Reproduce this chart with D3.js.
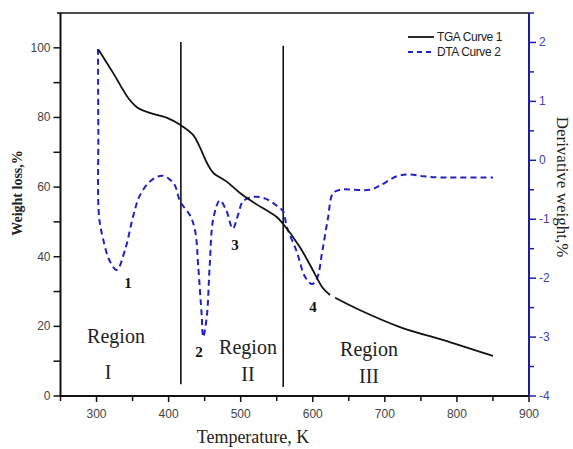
<!DOCTYPE html>
<html>
<head>
    <meta charset="utf-8">
    <script src="https://d3js.org/d3.v7.min.js"></script>
    <style>
        body { margin: 0; background: #fff; }
        .tick-label { font-family: "Liberation Sans", Arial, sans-serif; font-size: 12px; }
        .serif { font-family: "Liberation Serif", "Times New Roman", serif; }
    </style>
</head>
<body>
<script type="text/javascript">

    // TGA curve 1 (temperature K, weight %)
    var tgaTemp   = [303, 323, 344, 357, 374, 398, 416, 434, 443, 453, 462, 481, 499, 517, 550, 559, 582, 600, 614, 624, 631, 665, 721, 790, 850];
    var tgaWeight = [99.4, 92.8, 85.6, 82.8, 81.3, 79.9, 77.9, 75.0, 71.6, 67.0, 64.1, 61.5, 58.3, 55.7, 51.4, 49.4, 42.8, 36.2, 31.0, 29.0, 28.2, 24.7, 19.8, 15.5, 11.5];
    var tgaBreak  = 627;   // small gap in the plotted TGA trace

    // DTA curve 2 (temperature K, derivative weight %)
    var dtaTemp  = [302, 302.5, 303.4, 309, 318, 328, 340, 351, 360, 375, 391, 402, 409, 416, 430, 437, 441, 446, 448, 453, 457, 462, 471, 480, 489, 497, 503, 517, 534, 550, 559, 564, 578, 589, 599, 606, 613, 621, 628, 638, 679, 693, 717, 735, 753, 777, 850];
    var dtaDeriv = [1.89, 0.5, -0.94, -1.33, -1.7, -1.86, -1.5, -0.94, -0.6, -0.35, -0.26, -0.33, -0.43, -0.7, -0.94, -1.21, -1.79, -2.65, -3.0, -2.65, -1.79, -0.99, -0.68, -0.85, -1.16, -0.9, -0.7, -0.62, -0.65, -0.77, -0.87, -1.13, -1.56, -1.97, -2.1, -2.0, -1.56, -0.99, -0.56, -0.5, -0.5, -0.43, -0.27, -0.24, -0.27, -0.29, -0.29];

    // region boundaries and labels
    var regionLines  = [417, 559];
    var regionNames  = ["I", "II", "III"];
    var peakLabels   = ["1", "2", "3", "4"];

    var xTicks      = [300, 400, 500, 600, 700, 800, 900];
    var xMinor      = [250, 350, 450, 550, 650, 750, 850];
    var leftTicks   = [0, 20, 40, 60, 80, 100];
    var leftMinor   = [10, 30, 50, 70, 90];
    var rightTicks  = [-4, -3, -2, -1, 0, 1, 2];
    var rightMinor  = [-3.5, -2.5, -1.5, -0.5, 0.5, 1.5, 2.5];

    var W = 573, H = 449;
    var blue = "#1c1ca8", dtaBlue = "#2222c0", labelBlue = "#4040c0";

    var svg = d3.select("body").append("svg")
        .attr("width", W).attr("height", H);

    var x  = d3.scaleLinear().domain([250, 900]).range([60.5, 529]);
    var yL = d3.scaleLinear().domain([0, 110]).range([396, 13]);
    var yR = d3.scaleLinear().domain([-4, 2.5]).range([396, 13]);

    // region separators
    svg.selectAll(".region-line")
       .data(regionLines)
       .enter().append("line")
       .attr("x1", function(d) { return x(d); })
       .attr("x2", function(d) { return x(d); })
       .attr("y1", function(d, i) { return i === 0 ? yL(101.7) : yL(100.6); })
       .attr("y2", function(d, i) { return i === 0 ? yL(3.4) : yL(2.6); })
       .attr("stroke", "#111").attr("stroke-width", 1.6);

    // curves
    var tga = tgaTemp.map(function(t, i) { return [t, tgaWeight[i]]; });
    var dta = dtaTemp.map(function(t, i) { return [t, dtaDeriv[i]]; });

    svg.append("path")
       .datum(dta)
       .attr("fill", "none")
       .attr("stroke", dtaBlue)
       .attr("stroke-width", 2)
       .attr("stroke-dasharray", "6,4")
       .attr("d", d3.line()
           .curve(d3.curveCatmullRom.alpha(0.5))
           .x(function(d) { return x(d[0]); })
           .y(function(d) { return yR(d[1]); }));

    var tgaLine = d3.line()
        .curve(d3.curveCatmullRom.alpha(0.5))
        .x(function(d) { return x(d[0]); })
        .y(function(d) { return yL(d[1]); });

    [tga.filter(function(d) { return d[0] < tgaBreak; }),
     tga.filter(function(d) { return d[0] > tgaBreak; })].forEach(function(part) {
        svg.append("path")
           .datum(part)
           .attr("fill", "none")
           .attr("stroke", "#111")
           .attr("stroke-width", 1.8)
           .attr("d", tgaLine);
    });

    // frame top
    svg.append("line")
       .attr("x1", 57).attr("x2", 529).attr("y1", 13).attr("y2", 13)
       .attr("stroke", "#111").attr("stroke-width", 1.6);

    // bottom axis
    var xAxis = svg.append("g").attr("transform", "translate(0,396)");
    xAxis.append("line").attr("x1", 60.5).attr("x2", 529)
         .attr("stroke", "#111").attr("stroke-width", 2);
    xAxis.selectAll(".xmaj").data(xTicks).enter().append("line")
         .attr("x1", function(d) { return x(d); }).attr("x2", function(d) { return x(d); })
         .attr("y1", 0).attr("y2", 6).attr("stroke", "#111").attr("stroke-width", 1.5);
    xAxis.selectAll(".xmin").data(xMinor).enter().append("line")
         .attr("x1", function(d) { return x(d); }).attr("x2", function(d) { return x(d); })
         .attr("y1", 0).attr("y2", 5).attr("stroke", "#111").attr("stroke-width", 1.5);
    xAxis.selectAll(".xlab").data(xTicks).enter().append("text")
         .attr("class", "tick-label")
         .attr("x", function(d) { return x(d); }).attr("y", 22)
         .attr("text-anchor", "middle").attr("fill", "#444")
         .text(function(d) { return d; });

    // left axis
    var lAxis = svg.append("g").attr("transform", "translate(60.5,0)");
    lAxis.append("line").attr("y1", 13).attr("y2", 396)
         .attr("stroke", "#111").attr("stroke-width", 2);
    lAxis.selectAll(".lmaj").data(leftTicks.concat(leftMinor)).enter().append("line")
         .attr("y1", function(d) { return yL(d); }).attr("y2", function(d) { return yL(d); })
         .attr("x1", -7).attr("x2", 0).attr("stroke", "#111").attr("stroke-width", 1.5);
    lAxis.selectAll(".llab").data(leftTicks).enter().append("text")
         .attr("class", "tick-label")
         .attr("x", -10).attr("y", function(d) { return yL(d) + 4; })
         .attr("text-anchor", "end").attr("fill", "#444")
         .text(function(d) { return d; });

    // right axis
    var rAxis = svg.append("g").attr("transform", "translate(529,0)");
    rAxis.append("line").attr("y1", 13).attr("y2", 396)
         .attr("stroke", blue).attr("stroke-width", 2);
    rAxis.selectAll(".rmaj").data(rightTicks).enter().append("line")
         .attr("y1", function(d) { return yR(d); }).attr("y2", function(d) { return yR(d); })
         .attr("x1", 0).attr("x2", 7).attr("stroke", blue).attr("stroke-width", 1.5);
    rAxis.selectAll(".rmin").data(rightMinor).enter().append("line")
         .attr("y1", function(d) { return yR(d); }).attr("y2", function(d) { return yR(d); })
         .attr("x1", 0).attr("x2", 5).attr("stroke", blue).attr("stroke-width", 1.5);
    rAxis.selectAll(".rlab").data(rightTicks).enter().append("text")
         .attr("class", "tick-label")
         .attr("x", 10).attr("y", function(d) { return yR(d) + 4; })
         .attr("fill", labelBlue)
         .text(function(d) { return d; });

    // axis titles
    svg.append("text").attr("class", "serif")
       .attr("transform", "translate(22,193) rotate(-90)")
       .attr("text-anchor", "middle").attr("font-size", 14).attr("font-weight", "bold")
       .attr("fill", "#222")
       .text("Weight loss,%");
    svg.append("text").attr("class", "serif")
       .attr("transform", "translate(557,187) rotate(90)")
       .attr("text-anchor", "middle").attr("font-size", 17)
       .attr("fill", "#222")
       .text("Derivative weight,%");
    svg.append("text").attr("class", "serif")
       .attr("x", 253).attr("y", 443)
       .attr("text-anchor", "middle").attr("font-size", 18)
       .attr("fill", "#222")
       .text("Temperature, K");

    // region labels
    var regionPos = [[116, 343, 108, 379], [248, 354, 248, 381], [369, 356, 369, 383]];
    regionNames.forEach(function(r, i) {
        var p = regionPos[i];
        svg.append("text").attr("class", "serif")
           .attr("x", p[0]).attr("y", p[1]).attr("text-anchor", "middle")
           .attr("font-size", 20).attr("fill", "#222").text("Region");
        svg.append("text").attr("class", "serif")
           .attr("x", p[2]).attr("y", p[3]).attr("text-anchor", "middle")
           .attr("font-size", 20).attr("fill", "#222").text(r);
    });

    // peak numbers
    var peakPos = [[128, 288], [199, 357], [235, 250], [313, 312]];
    peakLabels.forEach(function(l, i) {
        svg.append("text").attr("class", "serif")
           .attr("x", peakPos[i][0]).attr("y", peakPos[i][1]).attr("text-anchor", "middle")
           .attr("font-size", 15).attr("font-weight", "bold").attr("fill", "#111").text(l);
    });

    // legend
    var legend = svg.append("g").attr("transform", "translate(408,0)");
    legend.append("line").attr("x1", 0).attr("x2", 26).attr("y1", 37).attr("y2", 37)
          .attr("stroke", "#111").attr("stroke-width", 1.8);
    legend.append("line").attr("x1", 0).attr("x2", 26).attr("y1", 52).attr("y2", 52)
          .attr("stroke", dtaBlue).attr("stroke-width", 2).attr("stroke-dasharray", "5,4");
    legend.append("text").attr("class", "tick-label")
          .attr("x", 29).attr("y", 40.5).attr("font-size", 10).attr("letter-spacing", -0.4)
          .attr("fill", "#222").text("TGA Curve 1");
    legend.append("text").attr("class", "tick-label")
          .attr("x", 29).attr("y", 55.5).attr("font-size", 10).attr("letter-spacing", -0.4)
          .attr("fill", "#222").text("DTA Curve 2");

</script>
</body>
</html>
